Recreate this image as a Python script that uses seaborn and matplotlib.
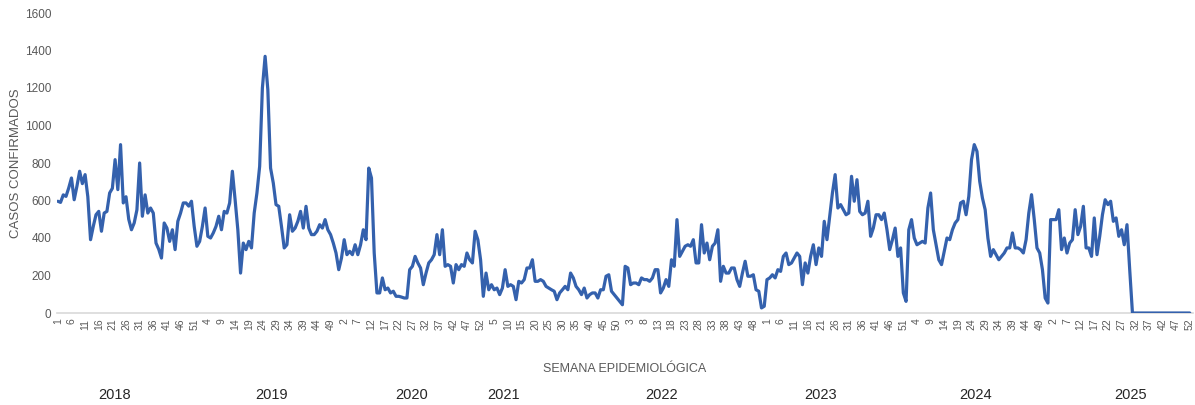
import numpy as np
import pandas as pd
import matplotlib
matplotlib.use("Agg")
import matplotlib.pyplot as plt
import matplotlib.transforms as mtransforms
import seaborn as sns

# weekly confirmed cases (52 weeks per year)
years = [2018, 2019, 2020, 2021, 2022, 2023, 2024, 2025]
casos_2018 = [596, 590, 630, 622, 667, 720, 604, 676, 756, 690, 738, 620, 391,
              462, 524, 542, 436, 533, 542, 640, 665, 818, 658, 898, 587, 620,
              500, 444, 480, 550, 800, 516, 630, 533, 560, 533, 373, 340, 293,
              480, 453, 382, 444, 338, 489, 533, 587, 587, 570, 596, 462, 356]
casos_2019 = [382, 462, 560, 409, 400, 427, 462, 516, 444, 542, 533, 587, 756,
              604, 444, 213, 373, 338, 382, 347, 533, 640, 782, 1200, 1369, 1191,
              773, 693, 578, 569, 462, 347, 364, 524, 436, 453, 489, 542, 453,
              569, 453, 418, 418, 436, 471, 453, 498, 444, 418, 373, 320, 231]
casos_2020 = [293, 391, 311, 329, 311, 364, 311, 364, 444, 391, 773, 720, 320,
              107, 107, 187, 124, 133, 107, 116, 89, 89, 85, 80, 80, 231,
              249, 302, 267, 240, 151, 213, 267, 284, 311, 418, 311, 444, 249,
              258, 249, 160, 258, 231, 258, 249, 320, 284, 267, 436, 391, 284]
casos_2021 = [89, 213, 124, 151, 124, 133, 98, 133, 231, 142, 151, 142, 71,
              169, 160, 178, 240, 240, 284, 169, 169, 178, 169, 142, 133, 124,
              116, 71, 107, 124, 142, 124, 213, 187, 142, 124, 98, 133, 80,
              98, 107, 107, 80, 124, 124, 196, 204, 116, 98, 80, 62, 44]
casos_2022 = [249, 240, 151, 160, 160, 151, 187, 178, 178, 169, 187, 231, 231,
              107, 133, 178, 142, 284, 249, 498, 302, 329, 356, 364, 356, 391,
              267, 267, 471, 320, 373, 284, 356, 373, 444, 169, 249, 213, 213,
              240, 240, 178, 142, 213, 276, 196, 196, 204, 124, 116, 27, 36]
casos_2023 = [178, 187, 204, 187, 231, 222, 302, 320, 258, 267, 293, 320, 302,
              151, 267, 213, 302, 364, 258, 347, 302, 489, 391, 516, 640, 738,
              560, 578, 551, 524, 533, 729, 596, 711, 542, 524, 533, 596, 409,
              453, 524, 524, 498, 533, 444, 338, 391, 453, 302, 347, 107, 62]
casos_2024 = [444, 498, 400, 364, 373, 382, 373, 560, 640, 444, 364, 284, 258,
              329, 400, 391, 444, 480, 498, 587, 596, 524, 622, 818, 898, 862,
              702, 613, 551, 400, 302, 338, 311, 284, 302, 320, 347, 347, 427,
              347, 347, 338, 320, 391, 533, 631, 498, 347, 320, 231, 80, 53]
casos_2025 = [498, 498, 498, 551, 338, 400, 320, 373, 391, 551, 418, 462, 569,
              347, 347, 302, 507, 311, 409, 524, 604, 578, 596, 489, 507, 409,
              444, 364, 471, 230, 0, 0, 0, 0, 0, 0, 0, 0, 0,
              0, 0, 0, 0, 0, 0, 0, 0, 0, 0, 0, 0, 0]

semanas = list(range(1, 53))
y_ticks = [0, 200, 400, 600, 800, 1000, 1200, 1400, 1600]

# where the year captions sit under the axis (in week index units)
year_label_at = [20.9, 78.3, 129.6, 163.6, 221.4, 279.6, 336.3, 393.4]

casos = (casos_2018 + casos_2019 + casos_2020 + casos_2021 +
         casos_2022 + casos_2023 + casos_2024 + casos_2025)
df = pd.DataFrame({
    "idx": np.arange(len(casos)),
    "semana": semanas * len(years),
    "casos": casos,
})

sns.set_style("white")
plt.rcParams["font.family"] = ["Liberation Sans", "DejaVu Sans"]

fig = plt.figure(figsize=(11.95, 4.05), dpi=100)
ax = fig.add_axes([57 / 1195, 1 - 313 / 405, (1193 - 57) / 1195, 300 / 405])

sns.lineplot(data=df, x="idx", y="casos", color="#3461AD", linewidth=2.3, ax=ax)

ax.set_xlim(-0.3, len(casos) + 0.2)
ax.set_ylim(0, 1600)
ax.set_yticks(y_ticks)
ax.set_yticklabels([str(v) for v in y_ticks], fontsize=8.5, color="#595959")

tick_idx = df["idx"][::5]
ax.set_xticks(tick_idx)
ax.set_xticklabels(df["semana"][::5].astype(str), rotation=90, fontsize=7.5,
                   color="#595959")
ax.tick_params(axis="both", length=0, pad=4)

for side in ["top", "right", "left"]:
    ax.spines[side].set_visible(False)
ax.spines["bottom"].set_color("#D9D9D9")
ax.spines["bottom"].set_linewidth(1.2)
ax.spines["bottom"].set_zorder(0)

ax.set_xlabel("")
ax.set_ylabel("CASOS CONFIRMADOS", fontsize=9.5, color="#595959")
ax.yaxis.set_label_coords(-0.031, 0.5)

fig.text(0.523, 1 - 369 / 405, "SEMANA EPIDEMIOLÓGICA", ha="center", va="center",
         fontsize=9, color="#595959")

trans = mtransforms.blended_transform_factory(ax.transData, fig.transFigure)
for yr, pos in zip(years, year_label_at):
    ax.text(pos, 1 - 395 / 405, str(yr), transform=trans, ha="center",
            va="center", fontsize=10.5, color="#262626")

fig.savefig("out.png", dpi=100)
